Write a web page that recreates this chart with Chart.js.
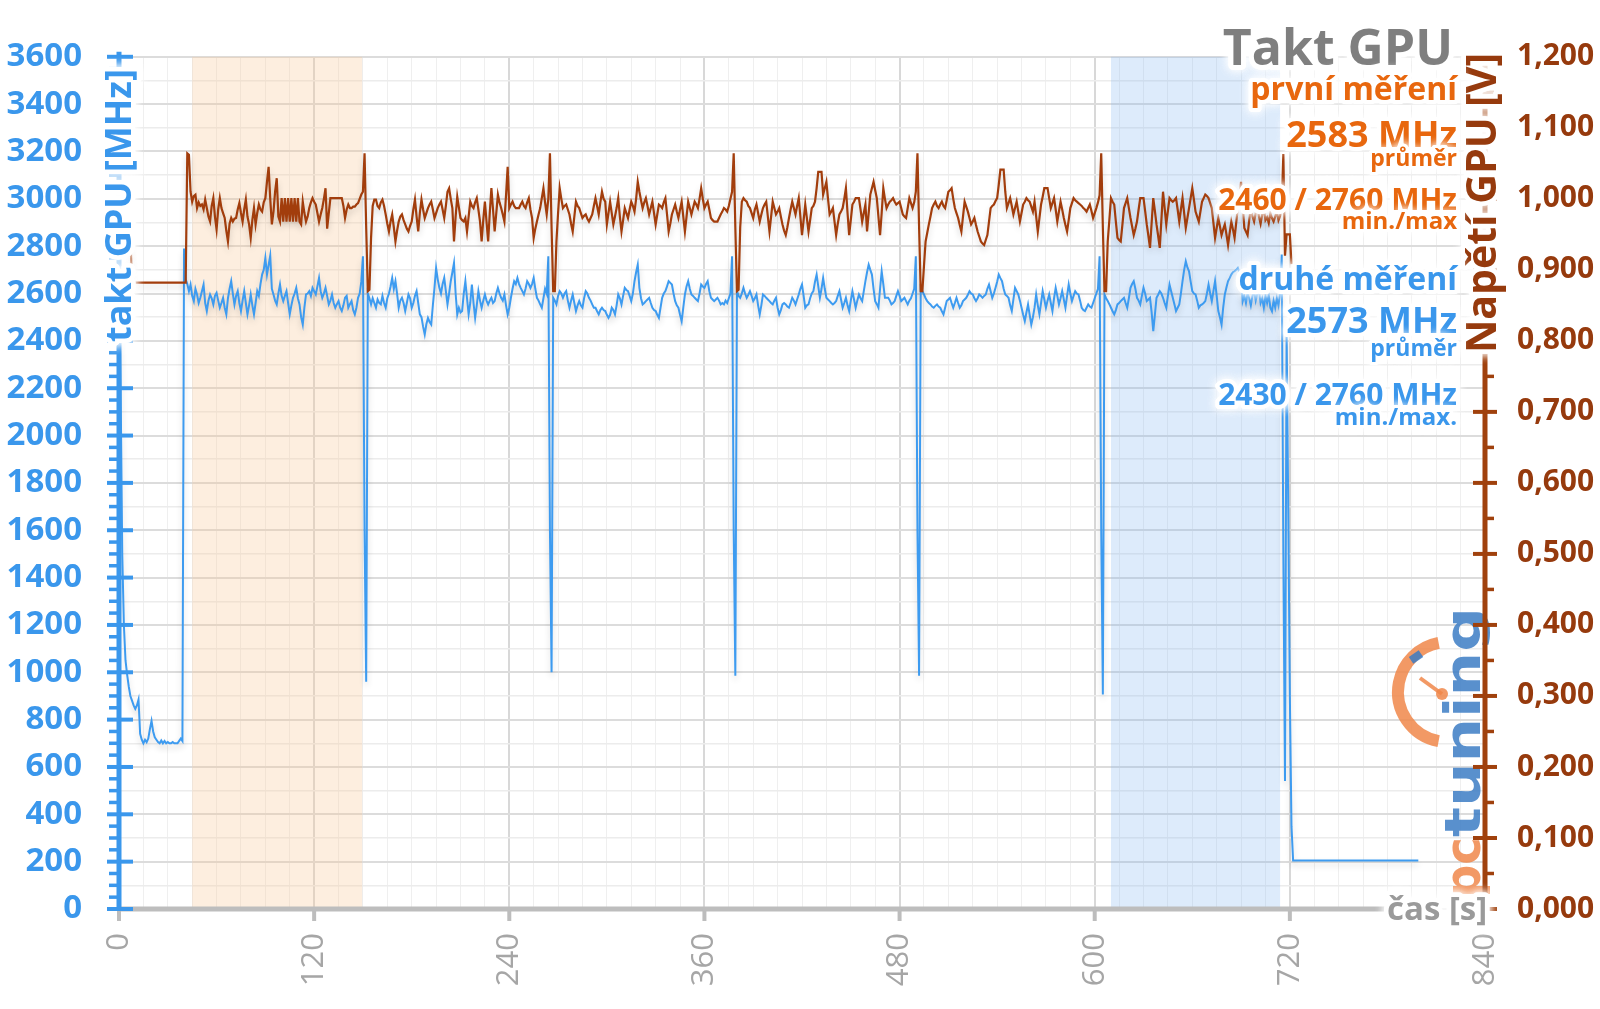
<!DOCTYPE html>
<html lang="cs">
<head>
<meta charset="utf-8">
<title>Takt GPU</title>
<script src="https://cdn.jsdelivr.net/npm/chart.js@4/dist/chart.umd.min.js"></script>
<style>
html,body{margin:0;padding:0;background:#fff;}
#wrap{width:1600px;height:1009px;position:relative;overflow:hidden;}
canvas{display:block;}
</style>
</head>
<body>
<div id="wrap"><canvas id="c" width="1600" height="1009"></canvas></div>
<script>
// ---------- DATA ----------
const SAMPLE_STEP_S = 1;            // one sample per second
const X_TICK_LABELS = [0, 120, 240, 360, 480, 600, 720, 840];

// GPU clock, second run [MHz], one value per second starting at 0 s
const clockMHz = [
2650,2200,1500,1200,1050,990,940,900,880,860,
845,860,885,740,715,700,715,705,720,760,
795,750,725,715,705,700,712,700,710,700,
705,700,700,705,700,700,700,710,720,710,
2790,2660,2640,2610,2638,2590,2568,2620,2596,2560,
2582,2610,2638,2560,2526,2570,2596,2580,2554,2590,
2603,2570,2540,2560,2582,2540,2512,2580,2620,2652,
2600,2554,2590,2610,2560,2526,2570,2610,2560,2512,
2550,2596,2550,2512,2560,2610,2590,2640,2680,2700,
2750,2680,2720,2760,2620,2596,2570,2554,2600,2638,
2590,2568,2590,2610,2560,2512,2550,2582,2600,2624,
2580,2554,2500,2469,2540,2596,2600,2610,2590,2624,
2610,2596,2630,2666,2610,2582,2600,2624,2590,2554,
2570,2596,2560,2540,2555,2568,2540,2526,2550,2582,
2590,2540,2555,2568,2530,2512,2540,2582,2600,2650,
2757,1600,960,2600,2580,2554,2580,2560,2540,2575,
2560,2554,2590,2560,2540,2580,2600,2630,2666,2620,
2652,2600,2540,2570,2582,2560,2526,2560,2596,2580,
2540,2560,2590,2610,2560,2512,2500,2460,2427,2470,
2497,2480,2469,2550,2624,2708,2660,2624,2600,2640,
2666,2610,2554,2600,2652,2690,2729,2600,2512,2540,
2520,2526,2600,2652,2580,2512,2560,2638,2560,2497,
2550,2610,2570,2540,2570,2596,2570,2554,2570,2582,
2560,2568,2600,2624,2600,2582,2570,2596,2550,2512,
2540,2582,2620,2652,2640,2666,2640,2624,2610,2596,
2620,2652,2640,2624,2640,2666,2620,2582,2570,2554,
2540,2580,2620,2600,2757,1600,1000,2582,2570,2554,
2590,2610,2600,2582,2600,2610,2570,2540,2570,2596,
2560,2526,2550,2568,2550,2540,2580,2610,2600,2582,
2570,2554,2540,2540,2525,2512,2530,2540,2530,2526,
2510,2497,2510,2540,2530,2512,2550,2596,2580,2554,
2590,2624,2615,2610,2590,2568,2600,2652,2690,2722,
2624,2580,2554,2560,2568,2575,2582,2560,2540,2530,
2526,2510,2497,2540,2582,2600,2610,2630,2652,2645,
2638,2600,2568,2550,2540,2510,2483,2540,2596,2630,
2652,2620,2596,2590,2582,2575,2568,2600,2638,2630,
2624,2640,2652,2610,2582,2575,2568,2575,2582,2570,
2554,2560,2554,2570,2560,2580,2600,2757,1600,985,
2610,2590,2582,2600,2624,2600,2582,2595,2610,2590,
2568,2580,2596,2550,2512,2550,2596,2590,2582,2575,
2568,2560,2554,2570,2582,2540,2512,2530,2554,2560,
2554,2545,2540,2560,2582,2570,2554,2575,2596,2620,
2638,2590,2540,2550,2554,2580,2600,2610,2650,2680,
2630,2582,2620,2666,2620,2582,2575,2568,2560,2554,
2560,2568,2590,2610,2575,2540,2560,2582,2550,2526,
2570,2610,2575,2540,2570,2596,2580,2568,2610,2652,
2690,2722,2700,2680,2620,2568,2555,2540,2620,2694,
2640,2582,2582,2582,2570,2554,2560,2568,2590,2610,
2590,2568,2575,2582,2568,2554,2570,2580,2600,2620,
2757,1600,985,2624,2610,2596,2580,2568,2560,2554,
2545,2540,2548,2554,2545,2540,2525,2512,2540,2568,
2575,2582,2560,2540,2560,2582,2560,2540,2550,2568,
2575,2582,2595,2610,2600,2596,2580,2568,2580,2596,
2590,2582,2590,2596,2620,2638,2610,2582,2600,2624,
2650,2680,2665,2652,2620,2596,2590,2582,2550,2526,
2575,2624,2610,2596,2570,2540,2510,2483,2520,2554,
2510,2469,2500,2540,2596,2550,2512,2560,2610,2575,
2540,2570,2596,2560,2526,2580,2624,2590,2554,2580,
2610,2575,2540,2590,2638,2600,2568,2590,2610,2600,
2596,2570,2540,2530,2526,2540,2554,2545,2540,2560,
2580,2600,2620,2757,1600,906,2596,2580,2568,2555,
2540,2525,2512,2530,2554,2560,2568,2575,2582,2560,
2540,2580,2624,2640,2652,2620,2582,2570,2554,2590,
2624,2600,2568,2575,2582,2520,2441,2510,2582,2595,
2610,2600,2582,2560,2540,2590,2638,2610,2582,2555,
2526,2540,2554,2600,2652,2700,2736,2710,2694,2650,
2610,2600,2596,2570,2540,2550,2554,2560,2568,2600,
2638,2600,2568,2610,2652,2590,2526,2500,2469,2540,
2596,2625,2652,2665,2680,2690,2694,2700,2708,2690,
2680,2567,2590,2560,2600,2580,2550,2590,2610,2570,
2600,2610,2560,2580,2540,2590,2560,2595,2540,2525,
2570,2540,2580,2550,2600,2765,1500,541,2450,1700,
900,350,205,205,205,205,205,205,205,205,
205,205,205,205,205,205,205,205,205,205,
205,205,205,205,205,205,205,205,205,205,
205,205,205,205,205,205,205,205,205,205,
205,205,205,205,205,205,205,205,205,205,
205,205,205,205,205,205,205,205,205,205,
205,205,205,205,205,205,205,205,205,205,
205,205,205,205,205,205,205,205,205,205
];

// GPU voltage [mV], one value per second starting at 0 s
const voltageMV = [
945,945,945,945,945,945,945,945,882,882,
882,882,882,882,882,882,882,882,882,882,
882,882,882,882,882,882,882,882,882,882,
882,882,882,882,882,882,882,882,882,882,
882,882,1064,1062,1010,996,1004,1006,987,995,
990,992,985,999,987,975,968,990,1001,975,
957,985,1001,987,980,973,955,940,965,973,
968,972,973,985,994,980,968,985,999,975,
964,945,970,987,964,980,992,985,982,995,
1001,1024,1045,1000,964,982,1010,1029,975,968,
1001,968,1001,968,1001,968,1001,968,1001,968,
1001,968,964,996,980,968,975,987,995,1001,
996,992,980,968,978,987,1000,1015,958,980,
1001,1001,1001,1001,1001,1001,1001,1001,990,973,
985,992,987,987,989,989,992,994,1000,1006,
1010,1064,960,870,872,945,990,999,999,990,
987,995,999,990,978,965,954,968,978,960,
940,955,968,975,978,970,964,958,954,962,
968,985,999,975,954,980,999,985,973,980,
987,992,996,985,973,980,987,992,996,985,
973,990,1010,1015,1000,987,940,975,1003,988,
973,970,968,973,954,975,996,990,987,995,
1001,985,968,940,970,996,968,940,980,1015,
985,954,980,1006,995,987,978,968,1005,1045,
987,992,996,990,987,987,987,992,996,990,
987,995,1001,985,973,945,958,968,978,987,
1001,1015,995,978,1000,1064,960,870,870,940,
980,1015,1000,987,990,992,985,978,965,954,
975,996,990,987,980,973,976,978,972,968,
973,978,990,1001,990,978,995,1010,1000,996,
964,980,996,980,964,975,987,1001,975,954,
970,987,980,973,985,996,990,982,1000,1024,
1010,998,987,995,1001,990,978,987,996,980,
964,978,992,990,987,995,1001,978,954,965,
978,985,992,982,973,985,996,975,954,975,
996,987,978,987,996,992,987,1000,1015,1000,
987,992,996,985,973,970,968,968,968,973,
978,982,987,985,982,990,1000,1010,1064,960,
870,872,960,996,1001,998,996,990,987,980,
973,985,992,980,968,978,987,992,996,975,
954,975,996,987,978,982,987,975,964,955,
949,960,973,985,996,987,978,990,1001,975,
949,970,992,973,954,970,987,990,996,1015,
1038,1038,1038,1006,1015,1024,1000,978,982,987,
968,949,965,978,982,987,1000,1015,980,949,
970,992,996,1001,1001,1001,985,968,980,992,
954,980,1006,1015,1024,1012,1001,975,949,980,
1015,1000,987,992,996,998,1001,996,992,994,
996,987,978,975,973,987,1001,994,987,995,
1010,1064,960,870,870,905,940,952,964,975,
987,992,996,990,987,992,996,990,987,998,
1010,1012,1015,1000,987,980,973,963,954,975,
996,989,982,973,964,968,973,963,954,947,
940,937,935,942,949,968,987,990,992,997,
1001,1020,1041,1041,1041,1010,987,994,1001,990,
978,987,996,982,968,980,992,996,1001,998,
996,989,982,996,975,954,973,992,1003,1015,
1015,1015,1001,987,994,1001,985,968,982,996,
985,973,963,954,970,987,994,1001,998,996,
994,992,990,987,985,982,987,992,983,973,
980,987,995,1005,1064,960,870,870,940,970,
1001,996,992,968,945,942,940,963,987,994,
1001,987,973,961,949,958,968,985,1001,1001,
1001,983,964,948,931,966,1001,983,964,948,
931,970,1010,987,964,983,1001,998,996,998,
1001,985,968,985,1001,980,959,973,987,1001,
1015,999,982,975,968,982,996,1001,1006,1004,
1001,994,987,966,945,959,973,961,949,957,
964,950,935,952,968,957,945,966,987,1005,
1024,992,959,954,949,970,987,975,968,980,
990,975,965,978,985,970,974,966,980,973,
968,975,982,970,976,990,1063,920,950,950,
950,908
];

// highlighted time windows [s]
const bandStartS = [45, 610];
const bandEndS   = [149.5, 714];

// texts
const CHART_TITLE = 'Takt GPU';
const Y_TITLE = 'takt GPU [MHz]';
const Y1_TITLE = 'Napětí GPU [V]';
const X_TITLE = 'čas [s]';
const RUN1_TEXT = ['první měření', '2583 MHz', 'průměr', '2460 / 2760 MHz', 'min./max'];
const RUN2_TEXT = ['druhé měření', '2573 MHz', 'průměr', '2430 / 2760 MHz', 'min./max.'];

// ---------- STYLE ----------
const BLUE = '#3a97ec';
const BLUE_LINE = '#3d9bf0';
const ORANGE = '#e8670e';
const BROWN = '#a23d0c';
const BROWN_TXT = '#963a0d';
const GRAY_AXIS = '#bdbdbd';
const FONT = '"Open Sans", "DejaVu Sans", sans-serif';

const clockPts = clockMHz.map((v, i) => ({x: i * SAMPLE_STEP_S, y: v}));
const voltPts = voltageMV.map((v, i) => ({x: i * SAMPLE_STEP_S, y: v / 1000}));

function glowText(ctx, txt, x, y, font, color, align, rot, halo) {
  ctx.save();
  ctx.translate(x, y);
  if (rot) ctx.rotate(rot);
  ctx.font = font;
  ctx.textAlign = align || 'right';
  ctx.textBaseline = 'alphabetic';
  ctx.lineJoin = 'round';
  ctx.shadowColor = 'rgba(255,255,255,1)';
  ctx.shadowBlur = 10;
  ctx.strokeStyle = 'rgba(255,255,255,0.95)';
  ctx.lineWidth = halo || 8;
  ctx.strokeText(txt, 0, 0);
  ctx.strokeText(txt, 0, 0);
  ctx.shadowBlur = 0;
  ctx.shadowColor = 'rgba(0,0,0,0)';
  ctx.fillStyle = color;
  ctx.fillText(txt, 0, 0);
  ctx.restore();
}

function seg(ctx, x1, y1, x2, y2) {
  ctx.beginPath(); ctx.moveTo(x1, y1); ctx.lineTo(x2, y2); ctx.stroke();
}

const bandPlugin = {
  id: 'bands',
  beforeDatasetsDraw(chart) {
    const {ctx, chartArea: a, scales: {x}} = chart;
    const cols = ['rgba(250,200,150,0.30)', 'rgba(120,175,240,0.25)'];
    ctx.save();
    bandStartS.forEach((s, i) => {
      const x1 = x.getPixelForValue(s), x2 = x.getPixelForValue(bandEndS[i]);
      ctx.fillStyle = cols[i];
      ctx.fillRect(x1, a.top, x2 - x1, a.bottom - a.top);
    });
    ctx.restore();
  }
};

const shadowPlugin = {
  id: 'lineShadow',
  beforeDatasetDraw(chart) {
    const ctx = chart.ctx;
    ctx.save();
    ctx.shadowColor = 'rgba(0,0,0,0.16)';
    ctx.shadowBlur = 6;
    ctx.shadowOffsetY = 4;
  },
  afterDatasetDraw(chart) { chart.ctx.restore(); }
};

function stretchedText(ctx, txt, x, len) {
  const w = ctx.measureText(txt).width;
  ctx.save();
  ctx.translate(x, 0);
  ctx.scale(len / w, 1);
  ctx.fillText(txt, 0, 0);
  ctx.restore();
}

function drawLogo(ctx) {
  ctx.save();
  ctx.globalAlpha = 0.85;
  ctx.strokeStyle = '#f0874a';
  ctx.lineWidth = 12;
  ctx.beginPath();
  ctx.arc(1448, 692, 50, Math.PI * 0.56, Math.PI * 1.44);
  ctx.stroke();
  ctx.lineWidth = 4;
  seg(ctx, 1442, 694, 1420, 678);
  ctx.fillStyle = '#f0874a';
  ctx.beginPath(); ctx.arc(1442, 694, 6, 0, Math.PI * 2); ctx.fill();
  ctx.fillStyle = '#3c7dc4';
  ctx.save(); ctx.translate(1416, 657); ctx.rotate(-0.6); ctx.fillRect(-6, -4, 12, 8); ctx.restore();
  ctx.translate(1480, 898);
  ctx.rotate(-Math.PI / 2);
  ctx.font = 'bold 50px "DejaVu Sans"';
  ctx.textAlign = 'left';
  ctx.fillStyle = '#f0874a';
  stretchedText(ctx, 'pc', 0, 61);
  ctx.fillStyle = '#3c7dc4';
  stretchedText(ctx, 'tuning', 61, 230);
  ctx.restore();
}

const decorPlugin = {
  id: 'decor',
  afterDraw(chart) {
    const {ctx, chartArea: a, scales: {x, y, y1}} = chart;
    drawLogo(ctx);
    ctx.save();
    ctx.lineCap = 'butt';
    // x axis
    ctx.strokeStyle = GRAY_AXIS; ctx.lineWidth = 5;
    seg(ctx, a.left, a.bottom, 1386, a.bottom);
    ctx.lineWidth = 4;
    X_TICK_LABELS.forEach(v => { const px = x.getPixelForValue(v); seg(ctx, px, a.bottom, px, a.bottom + 12); });
    // left axis
    ctx.strokeStyle = BLUE; ctx.lineWidth = 5;
    seg(ctx, a.left, a.top - 5, a.left, a.bottom + 2);
    for (let v = 0; v <= 3600; v += 50) {
      const py = y.getPixelForValue(v);
      if (v % 200 === 0) { ctx.lineWidth = 4; seg(ctx, a.left - 12, py, a.left + 14, py); }
      else { ctx.lineWidth = 3.5; seg(ctx, a.left - 10, py, a.left, py); }
    }
    // right axis
    ctx.strokeStyle = '#a0410d'; ctx.lineWidth = 5;
    seg(ctx, a.right, a.top - 3, a.right, a.bottom + 2);
    for (let k = 0; k <= 24; k++) {
      const py = y1.getPixelForValue(k * 0.05);
      if (k % 2 === 0) { ctx.lineWidth = 4; seg(ctx, a.right - 12, py, a.right + 12, py); }
      else { ctx.lineWidth = 3.5; seg(ctx, a.right, py, a.right + 9, py); }
    }
    ctx.restore();

    // axis titles
    glowText(ctx, Y_TITLE, 131, 342, 'bold 36px ' + FONT, BLUE, 'left', -Math.PI / 2, 9);
    glowText(ctx, Y1_TITLE, 1496, 353, 'bold 41px ' + FONT, BROWN_TXT, 'left', -Math.PI / 2, 9);
    glowText(ctx, X_TITLE, 1387, 920, 'bold 33px ' + FONT, '#9a9a9a', 'left', 0, 9);

    // title and summaries
    const R = 1457;
    glowText(ctx, CHART_TITLE, 1453, 65, 'bold 50px ' + FONT, '#7f7f7f', 'right', 0, 10);
    const sizes = [32, 36, 23, 30, 24];
    const base1 = [100, 147, 166, 210, 229];
    const base2 = [290, 333, 356, 405, 425];
    RUN1_TEXT.forEach((t, i) => glowText(ctx, t, R, base1[i], 'bold ' + sizes[i] + 'px ' + FONT, ORANGE, 'right', 0, i === 2 || i === 4 ? 6 : 8));
    RUN2_TEXT.forEach((t, i) => glowText(ctx, t, R, base2[i], 'bold ' + sizes[i] + 'px ' + FONT, BLUE, 'right', 0, i === 2 || i === 4 ? 6 : 8));
  }
};

new Chart(document.getElementById('c'), {
  type: 'line',
  data: {
    datasets: [
      { label: 'Napětí GPU', data: voltPts, yAxisID: 'y1', borderColor: BROWN, borderWidth: 2.2,
        pointRadius: 0, tension: 0, fill: false, order: 0 },
      { label: 'Takt GPU', data: clockPts, yAxisID: 'y', borderColor: BLUE_LINE, borderWidth: 2,
        pointRadius: 0, tension: 0, fill: false, order: 1 }
    ]
  },
  options: {
    responsive: false,
    animation: false,
    devicePixelRatio: 1,
    layout: { padding: { top: 55, left: 0, right: 0, bottom: 0 } },
    plugins: { legend: { display: false }, tooltip: { enabled: false } },
    scales: {
      x: {
        type: 'linear', min: 0, max: 840, position: 'bottom',
        ticks: {
          stepSize: 15, autoSkip: false, maxTicksLimit: 1000, minRotation: 90, maxRotation: 90, padding: 24,
          color: '#a6a6a6', font: { family: 'Open Sans', size: 31 },
          callback: v => (v % 120 === 0 ? String(v) : '')
        },
        grid: {
          drawTicks: false,
          color: c => (c.tick && c.tick.value % 120 === 0) ? '#d8d8d8' : '#efefef',
          lineWidth: c => (c.tick && c.tick.value % 120 === 0) ? 2 : 1
        },
        border: { display: false },
        afterFit: s => { s.height = 100; }
      },
      y: {
        position: 'left', min: 0, max: 3600,
        ticks: {
          stepSize: 50, autoSkip: false, maxTicksLimit: 1000, padding: 37,
          color: BLUE, font: { family: 'Open Sans', size: 33, weight: 'bold' },
          callback: v => (v % 200 === 0 ? String(v) : '')
        },
        grid: {
          drawTicks: false,
          color: c => { const v = c.tick ? c.tick.value : 0; return v % 200 === 0 ? '#dcdcdc' : (v % 100 === 0 ? '#ececec' : 'rgba(0,0,0,0)'); },
          lineWidth: c => (c.tick && c.tick.value % 200 === 0) ? 2 : 1.5
        },
        border: { display: false },
        afterFit: s => { s.width = 119; }
      },
      y1: {
        position: 'right', min: 0, max: 1.2,
        ticks: {
          stepSize: 0.05, autoSkip: false, maxTicksLimit: 1000, padding: 32,
          color: BROWN_TXT, font: { family: 'Open Sans', size: 30, weight: 'bold' },
          callback: v => { const t = Math.round(v * 1000); return t % 100 === 0 ? (t / 1000).toFixed(3).replace('.', ',') : ''; }
        },
        grid: { drawOnChartArea: false, drawTicks: false },
        border: { display: false },
        afterFit: s => { s.width = 115; }
      }
    }
  },
  plugins: [bandPlugin, shadowPlugin, decorPlugin]
});
</script>
</body>
</html>
